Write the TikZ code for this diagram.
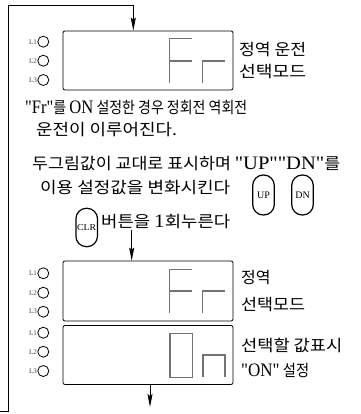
\documentclass[tikz,border=0pt]{standalone}
\usepackage{fontspec}
\usepackage{graphicx}
\usetikzlibrary{arrows.meta}
\setmainfont{Liberation Serif}[Ligatures=TeXOff]
\newfontfamily\kr{Noto Sans CJK KR}
\newcommand\fw[2]{\resizebox{#1pt}{\height}{#2}}
\newcommand\lt[1]{{\rmfamily\fontsize{19}{19}\selectfont #1}}
\tikzset{
  dispbox/.style={draw, rectangle, rounded corners=2pt, line width=0.8pt, minimum width=170pt, inner sep=0pt},
  seg/.style={draw=black!55, line width=1.6pt},
  led/.style={draw, circle, line width=0.8pt, minimum size=11pt, inner sep=0pt},
  ledlab/.style={font=\fontsize{7}{7}\selectfont, text=black!75, inner sep=0pt, anchor=east},
  btn/.style={draw, rectangle, rounded corners=10.5pt, line width=1.2pt, minimum width=21.6pt, minimum height=40pt, inner sep=0pt, font=\fontsize{10}{10}\selectfont},
  txt/.style={anchor=west, inner sep=0pt, font=\kr\fontsize{16}{16}\selectfont},
  arr/.style={line width=0.8pt, -{Stealth[length=13pt,width=5pt,inset=2pt]}}
}
\begin{document}
\begin{tikzpicture}[x=1pt,y=-1pt]
\useasboundingbox (0,0) rectangle (360,414);
% display boxes
\node[dispbox, minimum height=59pt] (b1) at (148,60.5) {};
\node[dispbox, minimum height=60pt] (b2) at (148,291) {};
\node[dispbox, minimum height=59pt] (b3) at (148,355) {};
% segments "Fr" box 1
\draw[seg] (192,38.5) -- (169.5,38.5) -- (169.5,83);
\draw[seg] (169.5,61) -- (192,61);
\draw[seg] (202.5,83) -- (202.5,61) -- (225,61);
% segments "Fr" box 2
\draw[seg] (192,269.3) -- (169.5,269.3) -- (169.5,313);
\draw[seg] (169.5,291) -- (192,291);
\draw[seg] (202.5,313) -- (202.5,291) -- (225,291);
% segments "On" box 3
\draw[seg] (170,333.3) rectangle (192.3,377.3);
\draw[seg] (202.7,377.3) -- (202.7,355) -- (225,355) -- (225,377.3);
% LEDs
\foreach \n/\y/\l in {a1/41.7/L1,a2/60.7/L2,a3/80/L3,c1/273.3/L1,c2/292.7/L2,c3/311.7/L3,d1/332.7/L1,d2/351.7/L2,d3/371/L3}{
  \node[led] (led\n) at (43.3,\y) {};
  \node[ledlab] (lab\n) at (37,\y) {\l};
}
% texts
\node[txt] (t1a) at (239,50) {\fw{67}{정역 운전}};
\node[txt] (t1b) at (239,72) {\fw{67}{선택모드}};
\node[txt] (t2) at (25,108) {\fw{222}{\lt{"Fr"}를 \lt{ON} 설정한 경우 정회전 역회전}};
\node[txt] (t3) at (36,130) {\fw{141}{운전이 이루어진다.}};
\node[txt] (t4) at (32,164) {\fw{308}{두그림값이 교대로 표시하며 \lt{"UP""DN"}를}};
\node[txt] (t5) at (40,188) {\fw{190}{이용 설정값을 변화시킨다}};
\node[txt] (t6) at (101,222) {\fw{129}{버튼을 \lt{1}회누른다}};
\node[txt] (t7) at (241,278) {정역};
\node[txt] (t8) at (241,305) {\fw{64}{선택모드}};
\node[txt] (t9) at (241,345) {\fw{101}{선택할 값표시}};
\node[txt] (t10) at (241,370) {\fw{68}{\lt{"ON"} 설정}};
% buttons
\node[btn] (up) at (263.5,195) {UP};
\node[btn] (dn) at (302.5,195) {DN};
\node[btn, minimum height=38.4pt] (clr) at (86.7,227.5) {\fw{19}{\fontsize{9}{9}\selectfont CLR}};
% connectors
\coordinate (ls) at (0,411);
\coordinate (lc) at (8.3,411);
\coordinate (tl) at (8.3,5);
\coordinate (tr) at (133.3,5);
\draw[arr] (ls) -- (lc) -- (tl) -- (tr) -- (tr |- b1.north);
\coordinate (ms) at (131.7,230);
\draw[arr] (ms) -- (ms |- b2.north);
\coordinate (be) at (150,407);
\draw[arr] (be |- b3.south) -- (be);
\end{tikzpicture}
\end{document}
